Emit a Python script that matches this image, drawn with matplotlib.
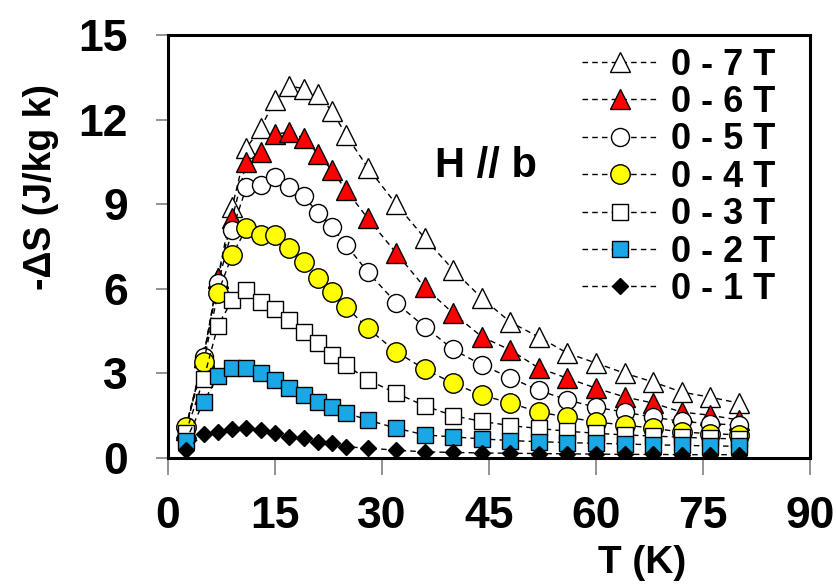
import matplotlib.pyplot as plt

plt.rcParams['font.family'] = ['Liberation Sans', 'DejaVu Sans']
plt.rcParams['font.weight'] = 'bold'

# Temperatures (K)
T = [2.5, 5, 7, 9, 11, 13, 15, 17, 19, 21, 23, 25, 28, 32, 36,
     40, 44, 48, 52, 56, 60, 64, 68, 72, 76, 80]

# -dS (J/kg K) for each field change
s7 = [1.05, 3.6, 6.4, 8.9, 11.0, 11.7, 12.7, 13.2, 13.1, 12.9, 12.3, 11.45, 10.3,
      9.0, 7.8, 6.67, 5.67, 4.82, 4.29, 3.72, 3.37, 3.01, 2.7, 2.34, 2.16, 1.95]
s6 = [1.0, 3.6, 6.4, 8.5, 10.5, 10.85, 11.5, 11.55, 11.35, 10.8, 10.2, 9.5, 8.5,
      7.27, 6.05, 5.13, 4.3, 3.83, 3.19, 2.83, 2.48, 2.17, 1.95, 1.63, 1.52, 1.35]
s5 = [1.1, 3.6, 6.2, 8.1, 9.6, 9.7, 9.95, 9.6, 9.3, 8.7, 8.2, 7.55, 6.6,
      5.5, 4.65, 3.85, 3.3, 2.85, 2.4, 2.06, 1.8, 1.63, 1.45, 1.3, 1.22, 1.17]
s4 = [1.1, 3.4, 5.85, 7.2, 8.15, 7.9, 7.9, 7.45, 6.95, 6.4, 5.9, 5.36, 4.6,
      3.77, 3.15, 2.65, 2.23, 1.95, 1.63, 1.45, 1.28, 1.17, 1.06, 0.92, 0.87, 0.82]
s3 = [0.9, 2.8, 4.7, 5.6, 5.95, 5.55, 5.3, 4.9, 4.47, 4.08, 3.65, 3.3, 2.77,
      2.3, 1.85, 1.5, 1.3, 1.15, 1.05, 0.95, 0.88, 0.82, 0.78, 0.74, 0.7, 0.68]
s2 = [0.6, 2.0, 2.9, 3.2, 3.2, 3.0, 2.77, 2.48, 2.23, 1.99, 1.81, 1.6, 1.35,
      1.06, 0.82, 0.75, 0.68, 0.62, 0.58, 0.55, 0.52, 0.5, 0.47, 0.45, 0.43, 0.42]
s1 = [0.28, 0.85, 0.92, 1.02, 1.08, 0.99, 0.88, 0.75, 0.7, 0.57, 0.53, 0.4, 0.35,
      0.28, 0.22, 0.2, 0.18, 0.17, 0.16, 0.15, 0.14, 0.13, 0.13, 0.12, 0.12, 0.12]

labels = ['0 - 7 T', '0 - 6 T', '0 - 5 T', '0 - 4 T', '0 - 3 T', '0 - 2 T', '0 - 1 T']
series = [s7, s6, s5, s4, s3, s2, s1]
markers = ['^', '^', 'o', 'o', 's', 's', 'D']
faces = ['white', 'red', 'white', '#FFFF00', 'white', '#1AA7E6', 'black']
msizes = [15, 15, 13, 14, 12, 12, 8.5]

fig, ax = plt.subplots(figsize=(8.37, 5.85), dpi=100)
fig.subplots_adjust(left=0.2007, right=0.9677, bottom=0.217, top=0.940)

for s, lab, m, fc, ms in zip(series, labels, markers, faces, msizes):
    ax.plot(T, s, linestyle=(0, (4, 3)), color='black', linewidth=1,
            marker=m, markersize=ms, markerfacecolor=fc,
            markeredgecolor='black', markeredgewidth=1, label=lab)

ax.set_xlim(0, 90)
ax.set_ylim(0, 15)
ax.set_xticks([0, 15, 30, 45, 60, 75, 90])
ax.set_yticks([0, 3, 6, 9, 12, 15])

for sp in ax.spines.values():
    sp.set_linewidth(2.2)
ax.tick_params(axis='x', direction='out', length=12, width=1.2, color='gray',
               labelsize=32, pad=15)
ax.tick_params(axis='y', direction='out', length=9, width=1.2, color='gray',
               labelsize=32, pad=20)

ax.set_xlabel('T (K)', fontsize=28, fontweight='bold', va='center')
ax.xaxis.set_label_coords(0.738, -0.248)
ax.set_ylabel('-ΔS (J/kg k)', fontsize=27, fontweight='bold', va='center')
ax.yaxis.set_label_coords(-0.198, 0.64)

ax.text(44.6, 10.35, 'H // b', fontsize=30, fontweight='bold',
        ha='center', va='center')

ax.legend(loc='upper right', bbox_to_anchor=(0.9455, 0.97), frameon=False,
          fontsize=26, borderpad=0, labelspacing=0.065, handlelength=2.1,
          handletextpad=0.35, borderaxespad=0)

fig.savefig('out.png', dpi=100)
